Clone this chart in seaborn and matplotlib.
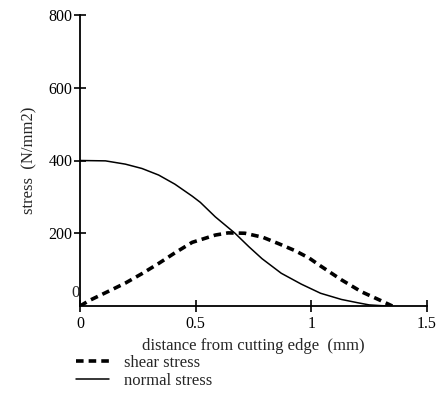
import numpy as np
import pandas as pd
import matplotlib
matplotlib.use("Agg")
import matplotlib.pyplot as plt
import seaborn as sns

# data
normal_x = [0.0, 0.11, 0.196, 0.268, 0.34, 0.41, 0.485, 0.52, 0.585, 0.67, 0.73, 0.787,
            0.87, 0.957, 1.04, 1.13, 1.2, 1.25, 1.3, 1.34]
normal_y = [400, 399, 390, 378, 360, 335, 302, 285, 245, 200, 163, 130,
            90, 60, 35, 18, 9, 3, 1, 0]
shear_x = [0.0, 0.04, 0.125, 0.196, 0.268, 0.34, 0.41, 0.485, 0.585, 0.64, 0.713, 0.79,
           0.86, 0.93, 0.99, 1.04, 1.13, 1.217, 1.30, 1.35]
shear_y = [0, 15, 41, 63, 89, 117, 146, 175, 195, 201, 200, 189,
           171, 152, 132, 110, 72, 39, 15, 0]
x_ticks = [0, 0.5, 1, 1.5]
x_tick_labels = ["0", "0.5", "1", "1.5"]
y_ticks = [200, 400, 600, 800]
y_tick_labels = ["200", "400", "600", "800"]
y_zero_label = "0"

sns.set_style("ticks")
plt.rcParams['font.family'] = ['Liberation Serif', 'DejaVu Serif']

fig = plt.figure(figsize=(4.43, 3.94), dpi=100)
ax = fig.add_axes([80/443, 1-306/394, (427-80)/443, (306-15)/394])

df_s = pd.DataFrame({"x": shear_x, "y": shear_y})
df_n = pd.DataFrame({"x": normal_x, "y": normal_y})
sns.lineplot(data=df_s, x="x", y="y", ax=ax, color="black", lw=2.6,
             linestyle=(0, (2.1, 1.4)), label="shear stress", sort=False)
sns.lineplot(data=df_n, x="x", y="y", ax=ax, color="black", lw=1.1,
             label="normal stress", sort=False)

ax.set_xlim(0, 1.5)
ax.set_ylim(0, 800)
ax.set_xticks(x_ticks)
ax.set_xticklabels(x_tick_labels)
ax.set_yticks(y_ticks)
ax.set_yticklabels(y_tick_labels)
ax.tick_params(axis="both", direction="inout", length=9, width=1.2,
               labelsize=11.5, colors="black", pad=1)
ax.tick_params(axis="x", pad=3)
ax.text(-0.002, 14, y_zero_label, ha="right", va="bottom", fontsize=12)
for s in ["top", "right"]:
    ax.spines[s].set_visible(False)
for s in ["left", "bottom"]:
    ax.spines[s].set_linewidth(1.3)
    ax.spines[s].set_color("black")

ax.set_xlabel("distance from cutting edge  (mm)", fontsize=12, labelpad=4)
ax.set_ylabel("stress  (N/mm2)", fontsize=12, labelpad=8)

ax.legend(loc="upper left", bbox_to_anchor=(-0.012, -0.168), frameon=False,
          fontsize=12, handlelength=2.0, handletextpad=0.9,
          labelspacing=0.1, borderaxespad=0, borderpad=0)

fig.savefig("out.png", dpi=100)
